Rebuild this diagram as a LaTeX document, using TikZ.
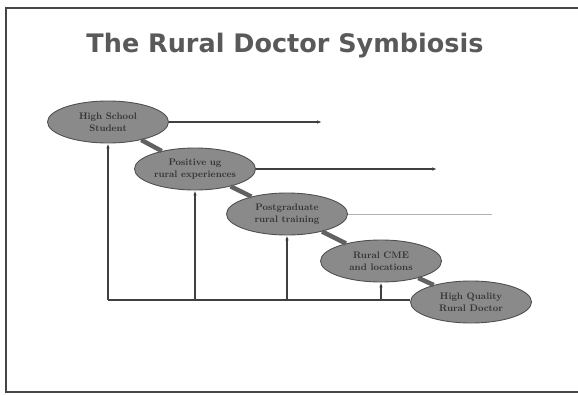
\documentclass[tikz,border=0pt]{standalone}
\usepackage{fontspec}
\usepackage{xcolor}
\usepackage{tikz}
\usetikzlibrary{arrows.meta,positioning,shapes.geometric,calc}

\newfontfamily\titlefont{DejaVu Sans}
\definecolor{stagefill}{RGB}{138,138,138}
\definecolor{stageline}{RGB}{80,80,80}
\definecolor{frameline}{RGB}{70,70,70}

\tikzset{
  stage/.style={ellipse, draw=stageline, fill=stagefill, line width=0.9pt,
    minimum width=121pt, minimum height=42pt, inner sep=0pt, align=center,
    text=black!80, font=\fontsize{9.5}{12}\selectfont\bfseries},
  link/.style={line width=4.5pt, draw=black!62},
  outarrow/.style={draw=black!75, line width=1.1pt, -{Latex[length=5pt,width=3.5pt]}},
  feedback/.style={draw=black!75, line width=1.1pt, -{Latex[length=5pt,width=3.5pt]}}
}

\begin{document}
\begin{tikzpicture}[x=1pt, y=-1pt]
    \useasboundingbox (0,0) rectangle (578,396);
    \draw[frameline, line width=2.6pt] (578,8) -- (6,8) -- (6,392) -- (578,392);

    \node[font=\titlefont\bfseries\fontsize{25.5}{30}\selectfont, text=black!65] (title) at (285,46) {The Rural Doctor Symbiosis};

    % stages
    \node[stage] (school) at (108,122) {High School\\Student};
    \node[stage] (ugrural) at (195,169) {Positive ug\\rural experiences};
    \node[stage] (pgrural) at (287,214) {Postgraduate\\rural training};
    \node[stage] (cme) at (381,261) {Rural CME\\and locations};
    \node[stage] (doctor) at (471,302) {High Quality\\Rural Doctor};

    \draw[link] (school) -- (ugrural);
    \draw[link] (ugrural) -- (pgrural);
    \draw[link] (pgrural) -- (cme);
    \draw[link] (cme) -- (doctor);

    % arrows to the right
    \coordinate (schoolend) at (322,122);
    \coordinate (ugend) at (437,169);
    \coordinate (pgend) at (492,214);
    \draw[outarrow] (school) -- (schoolend);
    \draw[outarrow] (ugrural) -- (ugend);
    \draw[black!30, line width=0.9pt] (pgrural) -- (pgend);

    % feedback from the rural doctor
    \coordinate (base) at (108,300);
    \draw[draw=black!75, line width=1.1pt] (base) -- (doctor.west |- base);
    \foreach \s in {school,ugrural,pgrural,cme}
      \draw[feedback] (\s.south |- base) -- (\s.south);
  \end{tikzpicture}
\end{document}
